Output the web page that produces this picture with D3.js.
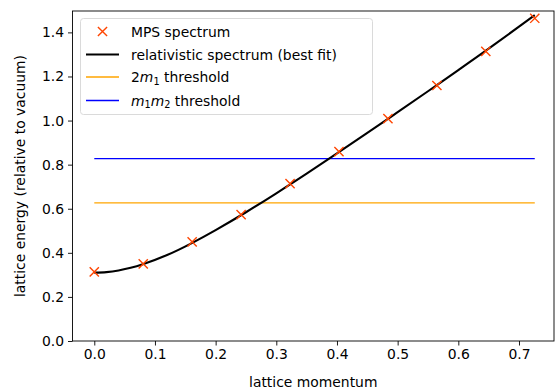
<!DOCTYPE html>
<html>
<head>
<meta charset="utf-8">
<script src="https://cdn.jsdelivr.net/npm/d3@7"></script>
<style>
  html, body { margin: 0; padding: 0; background: #fff; }
  svg { display: block; font-family: "DejaVu Sans", sans-serif; }
</style>
</head>
<body>
<svg id="chart" width="556" height="391"></svg>
<script>
// MPS spectrum samples: lattice momentum vs lattice energy
const momentum = [0.0, 0.0807, 0.1613, 0.242, 0.3227, 0.4033, 0.484, 0.5647, 0.6453, 0.726];
const energy   = [0.314, 0.350, 0.450, 0.573, 0.714, 0.859, 1.009, 1.159, 1.314, 1.464];

// Best-fit relativistic dispersion, sampled along the momentum range
const fitMomentum = [0.0, 0.02, 0.04, 0.06, 0.08, 0.12, 0.16, 0.20, 0.25, 0.30, 0.35, 0.40, 0.45, 0.50, 0.55, 0.60, 0.65, 0.70, 0.726];
const fitEnergy   = [0.310, 0.3125, 0.320, 0.332, 0.348, 0.390, 0.443, 0.503, 0.584, 0.670, 0.759, 0.851, 0.944, 1.038, 1.133, 1.229, 1.326, 1.426, 1.478];

// Threshold energies, drawn across the momentum range
const thresholdNames = ["2m1", "m1m2"];
const thresholdValues = [0.627, 0.827];
const thresholdColors = ["#ffa500", "#0000ff"];

const xTicks = [0.0, 0.1, 0.2, 0.3, 0.4, 0.5, 0.6, 0.7];
const yTicks = [0.0, 0.2, 0.4, 0.6, 0.8, 1.0, 1.2, 1.4];

const svg = d3.select("#chart");
const plotLeft = 72.5, plotRight = 554, plotTop = 11, plotBottom = 341;

const xMax = d3.max(momentum);
const x = d3.scaleLinear().domain([-0.0359, 0.7577]).range([plotLeft, plotRight]);
const y = d3.scaleLinear().domain([0, 1.497]).range([plotBottom, plotTop]);

const fontSize = 13.9;

// Axes
const xAxis = svg.append("g").attr("transform", `translate(0,${plotBottom})`)
  .call(d3.axisBottom(x).tickValues(xTicks).tickFormat(d3.format(".1f")).tickSizeOuter(0).tickSize(4.5).tickPadding(4));
const yAxis = svg.append("g").attr("transform", `translate(${plotLeft},0)`)
  .call(d3.axisLeft(y).tickValues(yTicks).tickFormat(d3.format(".1f")).tickSizeOuter(0).tickSize(4.5).tickPadding(4));
[xAxis, yAxis].forEach(g => {
  g.select(".domain").remove();
  g.selectAll("line").attr("stroke", "#000").attr("stroke-width", 0.9);
  g.selectAll("text").attr("font-size", fontSize).attr("fill", "#000")
    .attr("font-family", "DejaVu Sans, sans-serif");
});

// Plot frame
svg.append("rect").attr("x", plotLeft).attr("y", plotTop)
  .attr("width", plotRight - plotLeft).attr("height", plotBottom - plotTop)
  .attr("fill", "none").attr("stroke", "#000").attr("stroke-width", 0.9);

// Threshold lines
thresholdValues.forEach((v, i) => {
  svg.append("line")
    .attr("x1", x(0)).attr("x2", x(xMax))
    .attr("y1", y(v)).attr("y2", y(v))
    .attr("stroke", thresholdColors[i]).attr("stroke-width", 1.3);
});

// Fit curve
const fitLine = d3.line().x(d => x(d[0])).y(d => y(d[1])).curve(d3.curveNatural);
svg.append("path")
  .datum(fitMomentum.map((k, i) => [k, fitEnergy[i]]))
  .attr("d", fitLine)
  .attr("fill", "none").attr("stroke", "#000").attr("stroke-width", 2.1);

// Cross markers
const markColor = "#ff4500";
function cross(g, cx, cy, r) {
  g.append("path")
    .attr("d", `M${cx - r},${cy - r}L${cx + r},${cy + r}M${cx - r},${cy + r}L${cx + r},${cy - r}`)
    .attr("stroke", markColor).attr("stroke-width", 1.4).attr("fill", "none");
}
const marks = svg.append("g");
momentum.forEach((k, i) => cross(marks, x(k), y(energy[i]), 4.6));

// Legend
const lg = svg.append("g");
lg.append("rect").attr("x", 80.5).attr("y", 18.5).attr("width", 292).attr("height", 96)
  .attr("rx", 3).attr("fill", "#fff").attr("fill-opacity", 0.8)
  .attr("stroke", "#d6d6d6").attr("stroke-width", 0.9);
const rows = [31.5, 54.5, 77, 100.5];
const hx0 = 86, hx1 = 119, tx = 131;
cross(lg, (hx0 + hx1) / 2, rows[0], 4.6);
lg.append("line").attr("x1", hx0).attr("x2", hx1).attr("y1", rows[1]).attr("y2", rows[1])
  .attr("stroke", "#000").attr("stroke-width", 2.1);
lg.append("line").attr("x1", hx0).attr("x2", hx1).attr("y1", rows[2]).attr("y2", rows[2])
  .attr("stroke", thresholdColors[0]).attr("stroke-width", 1.3);
lg.append("line").attr("x1", hx0).attr("x2", hx1).attr("y1", rows[3]).attr("y2", rows[3])
  .attr("stroke", thresholdColors[1]).attr("stroke-width", 1.3);

function legendText(yy) {
  return lg.append("text").attr("x", tx).attr("y", yy).attr("dy", "0.36em")
    .attr("font-size", fontSize).attr("fill", "#000");
}
legendText(rows[0]).text("MPS spectrum");
legendText(rows[1]).text("relativistic spectrum (best fit)");
const t2 = legendText(rows[2]);
t2.append("tspan").text("2");
t2.append("tspan").attr("font-style", "italic").text("m");
t2.append("tspan").attr("font-size", fontSize * 0.7).attr("dy", "0.3em").text("1");
t2.append("tspan").attr("dy", "-0.21em").text(" threshold");
const t3 = legendText(rows[3]);
t3.append("tspan").attr("font-style", "italic").text("m");
t3.append("tspan").attr("font-size", fontSize * 0.7).attr("dy", "0.3em").text("1");
t3.append("tspan").attr("font-style", "italic").attr("dy", "-0.21em").text("m");
t3.append("tspan").attr("font-size", fontSize * 0.7).attr("dy", "0.3em").text("2");
t3.append("tspan").attr("dy", "-0.21em").text(" threshold");

// Axis titles
svg.append("text").attr("x", (plotLeft + plotRight) / 2).attr("y", 387)
  .attr("text-anchor", "middle").attr("font-size", fontSize).text("lattice momentum");
svg.append("text").attr("transform", `translate(25,${(plotTop + plotBottom) / 2}) rotate(-90)`)
  .attr("text-anchor", "middle").attr("font-size", fontSize).text("lattice energy (relative to vacuum)");
</script>
</body>
</html>
